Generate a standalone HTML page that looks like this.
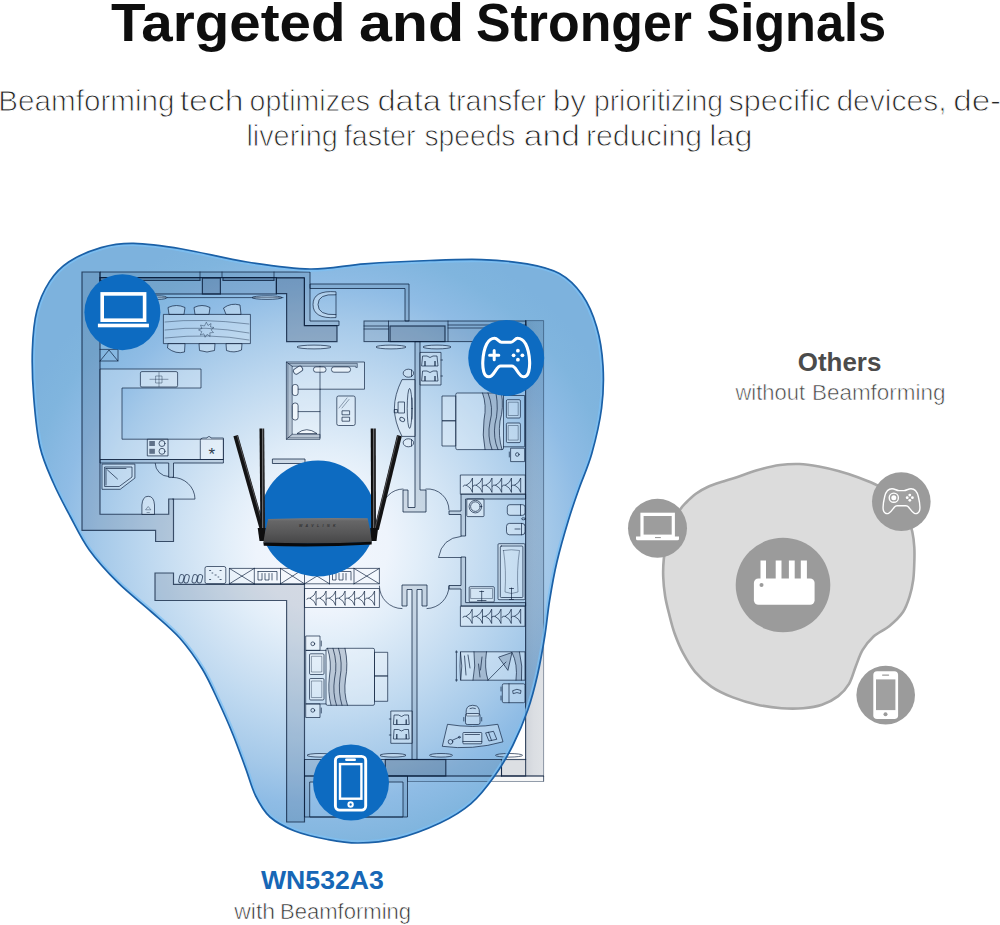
<!DOCTYPE html>
<html lang="en">
<head>
<meta charset="utf-8">
<title>Targeted and Stronger Signals</title>
<style>
html,body{margin:0;padding:0;background:#fff;}
body{width:1000px;height:925px;overflow:hidden;position:relative;font-family:"Liberation Sans",sans-serif;}
svg{position:absolute;left:0;top:0;display:block;}
text{font-family:"Liberation Sans",sans-serif;}
.w{fill:#142846;fill-opacity:.135;stroke:#0a1e3c;stroke-opacity:.74;stroke-width:1.15;stroke-linejoin:miter;}
.wd{fill:#142846;fill-opacity:.23;stroke:#0a1e3c;stroke-opacity:.8;stroke-width:1.2;}
.wl{fill:#142846;fill-opacity:.105;stroke:#0a1e3c;stroke-opacity:.74;stroke-width:1;}
.f{fill:none;stroke:#0a1e3c;stroke-opacity:.715;stroke-width:.95;stroke-linejoin:round;stroke-linecap:round;}
.ff{fill:#fff;fill-opacity:.25;stroke:#0a1e3c;stroke-opacity:.715;stroke-width:.95;stroke-linejoin:round;}
.t{fill:none;stroke:#0a1e3c;stroke-opacity:.6;stroke-width:.65;stroke-linejoin:round;stroke-linecap:round;}
</style>
</head>
<body>
<svg width="1000" height="925" viewBox="0 0 1000 925">
<defs>
<radialGradient id="bg" gradientUnits="userSpaceOnUse" cx="322" cy="545" r="330">
<stop offset="0" stop-color="#f4f7fd"/>
<stop offset="0.2" stop-color="#eef4fc"/>
<stop offset="0.29" stop-color="#e2eef9"/>
<stop offset="0.43" stop-color="#cde1f3"/>
<stop offset="0.52" stop-color="#bfd9f0"/>
<stop offset="0.68" stop-color="#a5c9e9"/>
<stop offset="0.79" stop-color="#8fbce5"/>
<stop offset="0.91" stop-color="#80b5de"/>
<stop offset="1" stop-color="#7db2dd"/>
</radialGradient>
<path id="blobp" d="M133.5,243.4 C147.0,243.6 163.1,245.9 182.0,249.0 C200.9,252.1 225.7,258.7 247.0,262.0 C268.3,265.3 290.4,268.7 310.0,269.0 C329.6,269.3 344.9,265.2 364.9,263.8 C384.8,262.4 410.2,261.2 429.7,260.5 C449.1,259.8 465.4,259.1 481.6,259.6 C497.8,260.2 514.0,261.5 527.0,263.8 C540.0,266.1 550.2,268.4 559.4,273.5 C568.6,278.6 575.8,285.7 582.0,294.6 C588.2,303.5 593.2,315.1 596.7,327.0 C600.2,338.9 602.2,352.5 603.0,366.0 C603.8,379.5 603.5,393.4 601.6,408.0 C599.7,422.6 595.6,440.0 591.8,453.5 C588.0,467.0 582.8,477.9 578.9,489.0 C575.0,500.1 572.2,507.8 568.5,520.0 C564.8,532.2 560.1,548.5 556.9,562.0 C553.7,575.5 551.5,588.7 549.5,601.0 C547.5,613.3 546.8,623.7 544.8,636.0 C542.8,648.3 540.3,662.7 537.5,675.0 C534.7,687.3 531.9,698.3 527.8,710.0 C523.7,721.7 518.5,734.0 513.0,745.0 C507.5,756.0 501.6,766.2 494.6,776.0 C487.6,785.8 480.1,795.8 471.0,803.6 C461.9,811.4 452.3,817.2 440.0,823.0 C427.7,828.8 410.7,835.3 397.0,838.6 C383.3,841.9 369.6,842.9 358.0,843.0 C346.4,843.1 338.2,841.5 327.6,839.5 C317.1,837.5 304.3,834.8 294.7,831.0 C285.1,827.2 276.5,822.8 270.0,817.0 C263.5,811.2 259.8,804.2 255.7,796.0 C251.6,787.8 249.2,777.8 245.4,767.6 C241.6,757.4 237.4,745.6 233.0,734.7 C228.6,723.8 223.8,713.0 218.7,702.0 C213.6,691.0 208.8,679.7 202.3,669.0 C195.8,658.3 188.2,647.6 179.7,638.0 C171.1,628.4 161.3,620.7 151.0,611.5 C140.7,602.3 128.3,593.0 118.0,582.7 C107.7,572.5 97.3,561.1 89.3,550.0 C81.3,538.9 76.0,527.2 70.0,516.0 C64.0,504.8 58.4,494.5 53.4,483.0 C48.4,471.5 43.3,461.2 40.0,447.0 C36.7,432.8 35.1,414.2 33.8,398.0 C32.5,381.8 31.9,364.2 32.4,349.7 C32.9,335.2 33.9,322.4 36.8,311.0 C39.6,299.6 44.2,289.8 49.5,281.6 C54.8,273.4 60.0,267.7 68.6,262.0 C77.2,256.3 90.2,250.7 101.0,247.6 C111.8,244.5 120.0,243.2 133.5,243.4 Z"/>
<clipPath id="blobclip"><use href="#blobp"/></clipPath>
</defs>

<!-- ===== headline ===== -->
<g id="headline" font-weight="700" font-size="54" fill="#0e0e0e">
<text x="111.0" y="41" textLength="234.6" lengthAdjust="spacingAndGlyphs">Targeted</text>
<text x="358.9" y="41" textLength="105.3" lengthAdjust="spacingAndGlyphs">and</text>
<text x="476.0" y="41" textLength="216.0" lengthAdjust="spacingAndGlyphs">Stronger</text>
<text x="706.5" y="41" textLength="179.6" lengthAdjust="spacingAndGlyphs">Signals</text>
</g>

<!-- ===== sub headline ===== -->
<g id="sub" font-size="29" fill="#262626" stroke="#fff" stroke-width="0.9">
<text x="-1.8" y="110.5" textLength="176.4" lengthAdjust="spacingAndGlyphs">Beamforming</text>
<text x="179.7" y="110.5" textLength="64.0" lengthAdjust="spacingAndGlyphs">tech</text>
<text x="249.5" y="110.5" textLength="120.6" lengthAdjust="spacingAndGlyphs">optimizes</text>
<text x="377.4" y="110.5" textLength="63.6" lengthAdjust="spacingAndGlyphs">data</text>
<text x="447.9" y="110.5" textLength="98.1" lengthAdjust="spacingAndGlyphs">transfer</text>
<text x="552.7" y="110.5" textLength="33.5" lengthAdjust="spacingAndGlyphs">by</text>
<text x="593.9" y="110.5" textLength="129.2" lengthAdjust="spacingAndGlyphs">prioritizing</text>
<text x="728.4" y="110.5" textLength="102.2" lengthAdjust="spacingAndGlyphs">specific</text>
<text x="836.4" y="110.5" textLength="110.2" lengthAdjust="spacingAndGlyphs">devices,</text>
<text x="953.2" y="110.5" textLength="48.0" lengthAdjust="spacingAndGlyphs">de-</text>
<text x="246.4" y="146" textLength="91.3" lengthAdjust="spacingAndGlyphs">livering</text>
<text x="343.9" y="146" textLength="71.7" lengthAdjust="spacingAndGlyphs">faster</text>
<text x="424.4" y="146" textLength="91.1" lengthAdjust="spacingAndGlyphs">speeds</text>
<text x="523.8" y="146" textLength="56.0" lengthAdjust="spacingAndGlyphs">and</text>
<text x="585.9" y="146" textLength="116.2" lengthAdjust="spacingAndGlyphs">reducing</text>
<text x="709.2" y="146" textLength="43.2" lengthAdjust="spacingAndGlyphs">lag</text>
</g>

<!-- ===== blue coverage blob ===== -->
<use href="#blobp" fill="url(#bg)"/>

<!-- ===== floor plan drawn in translucent ink over the blob ===== -->
<g id="plan">
<!-- walls -->
<defs><linearGradient id="rw" x1="0" y1="0" x2="1" y2="0"><stop offset="0" stop-color="#142846" stop-opacity=".2"/><stop offset="0.45" stop-color="#142846" stop-opacity=".155"/><stop offset="1" stop-color="#142846" stop-opacity=".135"/></linearGradient></defs>
<g id="walls">
<path class="w" d="M82,272 H100 V514.2 H168.7 V499 H173.5 V541.5 H155.6 V530.3 H82 Z"/>
<path class="wl" d="M100,272 H310 V321 H339 V325.6 H304.4 V277.6 H100 Z"/>
<rect class="w" x="100" y="277.6" width="176.400" height="16.400" style="fill-opacity:.11"/>
<path class="f" d="M200,272 V277.600 M222,272 V277.600 M274,272 V277.600"/>
<rect class="wd" x="100" y="277.6" width="100" height="2.800" style="fill-opacity:.12"/>
<rect class="wd" x="223" y="277.6" width="51" height="2.800" style="fill-opacity:.12"/>
<rect class="wd" x="202.400" y="278" width="18" height="16" style="fill-opacity:.13"/>
<path class="wd" d="M276.400,278 H304.400 V325.600 H337 V341.600 H286.600 V293.600 H276.400 Z"/>
<path class="wl" d="M310,284 H409 V321 H405 V288.500 H310 Z"/>
<!-- top right horizontal wall -->
<rect class="wl" x="364" y="321" width="162" height="20.600"/>
<path class="f" d="M364,326 H388.500 M364,329 H388.500 M388.500,321 V341.600 M448,321 V341.600 M448,325 H526 M448,328 H526"/>
<rect class="wd" x="390" y="326" width="55" height="15.600" style="fill-opacity:.15"/>
<!-- right outer wall -->
<rect x="525.600" y="320.600" width="18" height="455.400" fill="url(#rw)"/>
<path d="M525.600,320.600 H543.600 V781.500" fill="none" stroke="#0a1e3c" stroke-opacity=".48" stroke-width="0.900"/>
<path class="f" d="M525.600,320.600 V759.500 M501.500,776 H543.600" style="stroke-opacity:.8;stroke-width:1.150"/>
<!-- living / bedroom divider -->
<path class="wl" d="M415,341.600 H420 V490 H426 V512 H403 V490 H408 V507.500 H415 Z"/>
<!-- bathroom 2 -->
<path class="wl" d="M461,494 H525.600 V499 H465.600 V536 H461 V514.500 H449 V511 H461 Z"/>
<path class="wl" d="M461,557 H465.600 V602.600 H525.600 V606 H461 V589 H449 V585.500 H461 Z"/>
<!-- lower divider -->
<path class="wl" d="M402,585 H427 V606 H422 V589.500 H417 V759.500 H412 V589.500 H407 V606 H402 Z"/>
<!-- lower-left thick wall -->
<path class="w" d="M155,573 H173.500 V584.300 H304.500 V822 H286.600 V600.500 H155 Z"/>
<!-- bottom wall -->
<rect class="wl" x="304.500" y="759.500" width="197" height="16.500"/>
<rect class="wd" x="385.300" y="759.500" width="60.500" height="16.500" style="fill-opacity:.15"/>
<rect class="w" x="501.500" y="759.500" width="24.100" height="16.500" style="fill-opacity:.15"/>
<path class="wl" d="M304.500,776 H407.500 V817 H304.500 Z M309.700,782 V817 H403 V782 Z" fill-rule="evenodd"/>
<path class="wl" d="M407.500,776 H543.600 V781.500 H407.500 Z" style="fill-opacity:.045;stroke-opacity:.48;stroke-width:.9"/>
<!-- bathroom 1 -->
<path class="wl" d="M100,459.500 H223.400 V463 H173.500 V477.300 H168.700 V463 H100 Z"/>
</g>
<!-- kitchen / dining -->
<g id="kitchen">
<path class="f" d="M100,349.400 H118 V361 H100 M100,361 L109,350 L118,361"/>
<path class="ff" d="M100,369 H201 V388 H122 V439.200 H223.400 V459.500 H100 Z"/>
<rect class="ff" x="140.400" y="371.600" width="37.200" height="15.400" rx="1.500"/>
<path class="t" d="M150,379.300 H168 M159,372.500 V386.500 M156,376 H162 V383 H156 Z"/>
<rect class="ff" x="147.300" y="439.200" width="20.700" height="16.700"/>
<rect x="149.300" y="441" width="5.600" height="5" fill="#0a1e3c" fill-opacity=".58"/><rect x="149.300" y="448.800" width="5.600" height="5" fill="#0a1e3c" fill-opacity=".58"/>
<circle class="f" cx="162" cy="443.500" r="3"/><circle class="f" cx="162" cy="451.300" r="3"/>
<path class="ff" d="M200.300,459.500 V440.500 Q200.300,438 203,438 H207 Q207.500,436.600 209,436.600 Q210.500,436.600 211,438 H223.400 V459.500 Z"/>
<text x="211.700" y="459.600" font-size="17" text-anchor="middle" fill="#2d3b4d">*</text>
<!-- dining table -->
<rect class="ff" x="163.400" y="314.400" width="87" height="29.200"/>
<path class="t" d="M165,322 Q200,318 249,324 M165,330 Q205,325 249,333 M165,338 Q210,333 249,340"/>
<path class="t" d="M206.500,322.500 l1.500,3 l3,-2 l-0.500,3.500 l3.500,0.500 l-3,2.300 l2.500,2.700 l-3.700,0.300 l0.300,3.700 l-3,-2.200 l-2,3 l-1.300,-3.500 l-3.500,1.200 l1.500,-3.400 l-3.300,-1.700 l3.400,-1.400 l-1.400,-3.400 l3.600,0.800 Z"/>
<g class="ff">
<path d="M169,314.400 L168,307.500 Q176.500,303.500 185,307.500 L184,314.400 Z"/>
<path d="M195,314.400 L194,307.500 Q202,303.500 210,307.500 L209,314.400 Z"/>
<path d="M226,314.400 L223.500,308 Q231,302.500 240,305 L241,314.400 Z"/>
<path d="M168,343.600 L167.500,348 Q176,354.500 184.500,352 L185,343.600 Z"/>
<path d="M199,343.600 L199.500,350.500 Q207,353.500 214.500,350.500 L215,343.600 Z"/>
<path d="M226,343.600 L226.500,350.500 Q234,353.500 241.500,350 L242,343.600 Z"/>
</g>
<path class="f" d="M158,297.600 H283"/>
<ellipse class="ff" cx="267" cy="297.600" rx="15" ry="1.800"/>
<ellipse class="ff" cx="158" cy="297.600" rx="9" ry="1.800"/>
</g>
<!-- living room -->
<g id="living">
<path class="ff" d="M286.400,362 H364.500 V389.200 H320 V439.300 H286.400 Z"/>
<path d="M287.800,363.400 H357.300 V367.500 H355.800 V366.300 H292.200 V434.300 H320 V437.900 H287.800 Z" fill="#142846" fill-opacity=".2" stroke="#0a1e3c" stroke-opacity=".715" stroke-width=".7" stroke-linejoin="round"/>
<path class="f" d="M320,366.300 V389.200 M298,389.200 H320 M298,411.600 H320 M286.400,362 L292.200,366.300 M286.400,439.300 L292.200,434.300"/>
<g class="ff" style="fill-opacity:.55">
<rect x="293.200" y="367.300" width="9.500" height="5.600" rx="2.300" transform="rotate(-32 298 370)"/>
<rect x="313.500" y="366.900" width="12.500" height="5.300" rx="2.400"/>
<rect x="331.500" y="366.900" width="19" height="5.300" rx="2.400"/>
<rect x="292.300" y="384.500" width="5.800" height="11" rx="2.400"/>
<rect x="292.300" y="403" width="5.800" height="17" rx="2.600"/>
<path d="M297,433.600 Q306.500,425.800 317,433.600 Z"/>
</g>
<rect class="ff" x="336.800" y="396" width="18.400" height="29.500" rx="1.800"/>
<path class="t" d="M339,408 L347,398 M342,408 L349,399.500"/>
<rect class="f" x="342.400" y="410.800" width="7.200" height="4"/><rect class="f" x="342.400" y="417.200" width="7.200" height="4"/>
<!-- balcony chair -->
<path class="ff" d="M336,291.800 Q313,290 313,304.500 Q313,319 336,317.600 L336,314.600 Q318,315.500 318,304.500 Q318,293.500 336,294.800 Z"/>
<path class="f" d="M336,294.800 V314.600"/>
<!-- console + tv -->
<path class="ff" d="M415,379.600 H402 Q394.400,395 394.400,408 Q394.400,422 402,436.400 H415 Z"/>
<ellipse class="f" cx="409.600" cy="408.400" rx="2.400" ry="20"/>
<path class="f" d="M412,398 V419"/>
<rect class="f" x="398.500" y="402" width="6" height="11"/>
<rect class="f" x="394.600" y="409.500" width="2.800" height="3.300"/>
<ellipse class="f" cx="402.200" cy="419.500" rx="2.600" ry="1.800" transform="rotate(30 402.200 419.500)"/>
<ellipse class="ff" cx="408.400" cy="373.200" rx="5.200" ry="4"/>
<ellipse class="ff" cx="408.400" cy="442.800" rx="5.200" ry="4"/>
<path class="f" d="M411.500,370 V376.500 M411.500,439.600 V446"/>
<!-- small wall stub behind router -->
<path class="wl" d="M272.400,459 H305 V463.500 H272.400 Z"/>
<!-- ceiling lights -->
<ellipse class="ff" cx="314" cy="347" rx="17" ry="1.900"/>
<ellipse class="ff" cx="391" cy="347" rx="15" ry="1.900"/>
<ellipse class="ff" cx="437" cy="347" rx="14" ry="1.900"/>
</g>
<!-- hanger symbol -->
<defs>
<path id="hg" d="M0,-6.800 Q-0.900,-2.600 -6,0 Q-0.900,2.600 0,6.800 Z M-6,0 h-2 q-0.900,0.100 -1.100,1.100"/>
<path id="shirt" d="M0.800,0.800 Q3,-0.600 5,1 Q7,2.600 9,1 Q11,-0.600 13.200,0.800 L16,10 L12.500,11 L11.500,6 L11.500,11.500 H2.500 L2.500,6 L1.500,11 L-2,10 Z"/>
</defs>
<!-- bedroom 1 -->
<g id="bed1">
<rect class="ff" x="420" y="352.400" width="21" height="32.600"/>
<path class="f" d="M423,356 h4 q3,3 6,0 h4 l1,10 h-3 v-5 v5 h-10 v-5 v5 h-3 Z M423,371 h4 q3,3 6,0 h4 l1,10 h-3 v-5 v5 h-10 v-5 v5 h-3 Z"/>
<path class="f" d="M441,360 h1.500 M441,376 h1.500"/>
<rect class="ff" x="442" y="396" width="13.800" height="24.800"/>
<rect class="ff" x="442" y="420.800" width="13.800" height="25.200"/>
<rect class="ff" x="455.800" y="393" width="47.700" height="56.600" rx="1.500"/>
<path class="f" d="M503.500,395.500 H524.600 V446.800 H503.500"/>
<path d="M482.500,393 Q487,405 484,420 Q482,435 485,449.600 H502 Q498,436 500,421 Q504,408 501.500,393 Z" fill="#142846" fill-opacity=".18"/>
<path class="f" d="M482.500,393 Q487,405 484,420 Q482,435 485,449.600 M488,393 Q494,408 490,422 Q487,436 492,449.600 M496,393 Q499,410 495,424 Q493,438 498,449.600 M501.500,393 Q504,408 500,421 Q498,436 502,449.600"/>
<rect class="ff" x="506.400" y="399.700" width="14" height="18.300" rx="1.200"/>
<rect class="ff" x="506.400" y="423" width="14" height="19.600" rx="1.200"/>
<rect class="t" x="508.600" y="402.200" width="9.600" height="13.300"/>
<rect class="t" x="508.600" y="425.500" width="9.600" height="14.600"/>
<rect class="ff" x="510.600" y="448.200" width="14" height="13.400"/>
<circle class="f" cx="517.300" cy="454.500" r="1.800"/>
<path class="f" d="M509.300,452 v5"/>
<!-- wardrobe with hangers -->
<rect class="ff" x="460.300" y="475" width="65" height="19.200"/>
<g class="f">
<use href="#hg" x="472.4" y="485.2"/><use href="#hg" x="482.2" y="485.2"/><use href="#hg" x="491.9" y="485.2"/><use href="#hg" x="501.6" y="485.2"/><use href="#hg" x="511.4" y="485.2"/><use href="#hg" x="520.6" y="485.2"/>
</g>
</g>
<!-- bathroom 2 -->
<g id="bath2">
<rect class="ff" x="466.800" y="499" width="17.200" height="17.600" rx="1"/>
<circle class="f" cx="475.400" cy="506.600" r="6.300"/><circle class="f" cx="475.400" cy="506.600" r="4.800"/>
<rect class="ff" x="507.300" y="504.700" width="17.700" height="10.600" rx="2.500"/>
<path class="f" d="M520.500,504.700 V515.300"/>
<ellipse class="f" cx="523.500" cy="518.800" rx="2" ry="1"/>
<rect class="ff" x="506.500" y="523.400" width="18.500" height="11.400" rx="3"/>
<path class="f" d="M515,529 H520 M521.500,523.400 V534.800"/>
<rect class="ff" x="498" y="543.700" width="27" height="56" rx="1"/>
<rect class="f" x="500.300" y="546" width="22.600" height="51.500" rx="1"/>
<path class="t" d="M503.500,550.500 Q511.500,549 519.500,550.500 Q516.500,570 518,592 Q511.500,595 505,592 Q506.500,570 503.500,550.500 Z"/>
<path class="f" d="M511.500,588 V599 M509.500,588.500 H513.500 M509.500,599.500 H513.500"/>
<rect class="ff" x="469.200" y="586.700" width="25.100" height="15.300" rx="1"/>
<rect class="t" x="471" y="588.500" width="21.500" height="10"/>
<path class="f" d="M481.700,591 V601 M479.700,591.500 H483.700 M477.500,600.500 H486"/>
<!-- doors -->
<path class="f" d="M426,489 A21,21 0 0 1 449,510"/>
<path class="f" d="M403,489 A21,21 0 0 0 382,510"/>
<path class="f" d="M461,536.400 Q442,538 438.500,557.500 H461"/>
</g>
<!-- bathroom 1 -->
<g id="bath1">
<path class="ff" d="M102,464.100 H134.900 V478.100 L120.200,489.300 H102 Z"/>
<path class="f" d="M105,467 H132 V477 L119.200,486.500 H105 Z"/>
<path class="f" d="M106,468.500 H126 M106,468.500 V485 M107.500,470 L117.500,479"/>
<path class="f" d="M155.200,463.400 A13.300,13.300 0 0 0 168.500,476.500"/>
<path class="f" d="M172.700,477.400 A22,22 0 0 1 195,499.100 H172.700"/>
<path class="ff" d="M141.900,514.500 V505 Q142.500,496.300 148.200,496.300 Q154,496.300 154.500,505 V514.500 Z"/>
<path class="t" d="M145.800,509.500 L148.200,506.500 L150.600,509.500 Z M147,512.500 h2.400"/>
</g>
<!-- closet row in hall -->
<g id="closets">
<g class="f">
<rect x="179.200" y="574.500" width="4.400" height="8.600" rx="2.200" transform="rotate(14 181.400 578.800)"/>
<rect x="184.400" y="574.500" width="4.400" height="8.600" rx="2.200" transform="rotate(14 186.600 578.800)"/>
<rect x="192.500" y="574.500" width="4.400" height="8.600" rx="2.200" transform="rotate(14 194.700 578.800)"/>
<rect x="197.700" y="574.500" width="4.400" height="8.600" rx="2.200" transform="rotate(14 199.900 578.800)"/>
</g>
<rect class="ff" x="205" y="566.500" width="20.800" height="17.100" rx="1.800"/>
<path class="f" d="M209.500,570.500 h1.200 M220,570.500 h1.200 M215,575 h1.200 M209.500,579.500 h1.200 M220,579.500 h1.200 M212,573 h0.800 M218,577 h0.800" stroke-width="1.200"/>
<path class="ff" d="M229.400,568.400 H379.400 V583.800 H229.400 Z"/>
<path class="f" d="M254.300,568.400 V583.800 M280.500,568.400 V583.800 M304.500,568.400 V583.800 M329.500,568.400 V583.800 M354,568.400 V583.800"/>
<path class="f" d="M229.400,568.400 L254.300,583.800 M254.300,568.400 L229.400,583.800 M280.500,568.400 L304.500,583.800 M304.500,568.400 L280.500,583.800 M304.500,568.400 L329.500,583.800 M329.500,568.400 L304.500,583.800 M354,568.400 L379.400,583.800 M379.400,568.400 L354,583.800"/>
<path class="f" d="M258,571.500 H277 V580 M258,571.500 V580 H262 V573.500 M265,573.500 V580 H269 V573.500 M272,573.500 V580 M332.500,571.500 H351 V580 M332.500,571.500 V580 H336 V573.500 M339,573.500 V580 H343 V573.500 M346,573.500 V580"/>
<!-- bedroom 3 hanging closet -->
<rect class="ff" x="304.500" y="588.500" width="74.900" height="19"/>
<g class="f">
<use href="#hg" x="316.0" y="598.2"/><use href="#hg" x="326.0" y="598.2"/><use href="#hg" x="335.5" y="598.2"/><use href="#hg" x="345.0" y="598.2"/><use href="#hg" x="354.5" y="598.2"/><use href="#hg" x="364.5" y="598.2"/><use href="#hg" x="374.5" y="598.2"/>
</g>
<!-- doors in lower hall -->
<path class="f" d="M379.400,586 A22.600,22.600 0 0 0 402,608.600"/>
<path class="f" d="M427,608.600 A22.600,22.600 0 0 0 449,586"/>
</g>
<!-- bedroom 3 -->
<g id="bed3">
<rect class="ff" x="305.700" y="636" width="14.300" height="14.400"/>
<rect class="ff" x="305.700" y="703.900" width="14.300" height="13.600"/>
<circle class="f" cx="312.800" cy="643.800" r="1.900"/><circle class="f" cx="312.800" cy="710.300" r="1.900"/>
<path class="f" d="M321.300,641 v5 M321.300,708 v5"/>
<path class="f" d="M326,650.400 H305.700 V703.900 H326"/>
<rect class="ff" x="309.500" y="653.800" width="14.500" height="20.700" rx="1.200"/>
<rect class="ff" x="309.500" y="678.500" width="14.500" height="21.500" rx="1.200"/>
<rect class="t" x="311.800" y="656.300" width="10" height="15.700"/>
<rect class="t" x="311.800" y="681" width="10" height="16.500"/>
<rect class="ff" x="326" y="648.300" width="48.500" height="57" rx="1.500"/>
<path d="M327.500,648.300 Q332,662 329.500,676 Q327.500,692 331,705.300 H347.500 Q343.500,693 345.500,679 Q348.500,664 345,648.300 Z" fill="#142846" fill-opacity=".18"/>
<path class="f" d="M327.500,648.300 Q332,662 329.500,676 Q327.500,692 331,705.300 M333,648.300 Q338,664 334.500,679 Q332.500,693 336.500,705.300 M338.500,648.300 Q343,663 340,678 Q338,692 342,705.300 M345,648.300 Q348.500,664 345.500,679 Q343.500,693 347.500,705.300"/>
<rect class="ff" x="374.500" y="652.300" width="13.200" height="23.700"/>
<rect class="ff" x="374.500" y="676" width="13.200" height="25.300"/>
<rect class="ff" x="390.800" y="711" width="21.400" height="32.300"/>
<path class="f" d="M394.500,715 h4 q3,3 6,0 h4 l0.700,9.500 h-3 v-5 v5 h-9.400 v-5 v5 h-3 Z M394.500,729.500 h4 q3,3 6,0 h4 l0.700,9.500 h-3 v-5 v5 h-9.400 v-5 v5 h-3 Z"/>
<path class="f" d="M389.300,719 h1.500 M389.300,735 h1.500"/>
<ellipse class="ff" cx="320" cy="755.300" rx="13" ry="1.800"/>
<ellipse class="ff" cx="393" cy="755.300" rx="13" ry="1.800"/>
</g>
<!-- bedroom 2 -->
<g id="bed2">
<rect class="ff" x="460.400" y="606.200" width="64.600" height="20.100"/>
<g class="f">
<use href="#hg" x="472.1" y="616.3"/><use href="#hg" x="482.4" y="616.3"/><use href="#hg" x="491.6" y="616.3"/><use href="#hg" x="500.9" y="616.3"/><use href="#hg" x="511.2" y="616.3"/><use href="#hg" x="520.6" y="616.3"/>
</g>
<path class="ff" d="M460.500,651.800 H525 V680.200 H460.500 Q459.500,666 460.500,651.800 Z"/>
<path class="f" d="M456.400,650.800 V681.300 M455.500,652 h2 M455.500,680 h2 M460.500,652 Q463,666 460.800,680"/>
<path d="M474,651.800 Q476,666 473,680.200 H488 Q484,668 486.500,651.800 Z M499,657 L512,652.500 L508,670 Z M512,652.500 Q518,664 516,680.200 H521.500 Q523,666 519.500,652 Z" fill="#142846" fill-opacity=".18"/>
<path class="f" d="M474,651.800 Q476,666 473,680.200 M486.500,651.800 Q484,668 488,680.200 M464.500,656 L466,675 M468,655 L470,668 M478.500,664 L480,677 M482,657 L480.500,670"/>
<path class="f" d="M499,657 L512,652.500 L508,670 Z M488,680.200 L506,662 M512,652.500 Q518,664 516,680.200 M519.500,652 Q523,666 521.500,680.200"/>
<rect class="ff" x="502.300" y="683.800" width="22.700" height="18.900" rx="1.500"/>
<path class="f" d="M509,683.800 V702.700 M501,687 v4 M501,696 v4"/>
<path class="f" d="M513,690.500 q4,-2.500 8,0 l-0.500,3 q-3.500,-2 -7,0 Z"/>
<!-- chair + desk -->
<path class="ff" d="M466.500,716 Q465,708 469,706 Q472.700,704.500 476.500,706 Q480.500,708 479,716 Z"/>
<rect class="ff" x="465.500" y="713.500" width="14.500" height="11" rx="1.800"/>
<path class="f" d="M463.800,717.500 v3.500 M481.700,717.500 v3.500 M470,708.500 q2.700,-1.200 5.400,0"/>
<path class="ff" d="M447.500,724.300 Q472.500,728.500 497.800,724.300 L503,741.800 Q472.500,750.500 442.300,746.300 Z"/>
<rect class="ff" x="462.900" y="732.500" width="18.900" height="11.300" rx="0.800"/>
<path class="f" d="M462.900,741.500 H481.800 M465,734.500 H479.500"/>
<path class="f" d="M486,732.800 L493.500,731.300 L496.800,739.300 L489.300,740.900 Z M488.500,732.200 L491.500,740.400"/>
<circle class="f" cx="450.500" cy="741.800" r="2.300"/><path class="f" d="M452.300,740.300 L458.500,737.500"/><circle class="f" cx="459.300" cy="737.200" r="0.900"/>
<ellipse class="ff" cx="441" cy="755.300" rx="11.500" ry="1.800"/>
<ellipse class="ff" cx="509" cy="755.300" rx="13.500" ry="1.800"/>
</g>

</g>

<use href="#blobp" fill="none" stroke="#7cc0f4" stroke-width="5.4" stroke-opacity=".75" clip-path="url(#blobclip)"/>
<use href="#blobp" fill="none" stroke="#1b60a6" stroke-width="1.7"/>

<!-- ===== router ===== -->
<g id="router">
<defs>
<linearGradient id="rtop" x1="0" y1="0" x2="0" y2="1">
<stop offset="0" stop-color="#7b7b7c"/><stop offset="0.12" stop-color="#666667"/><stop offset="0.6" stop-color="#565657"/><stop offset="1" stop-color="#454546"/>
</linearGradient>
<linearGradient id="ant" x1="0" y1="0" x2="1" y2="0">
<stop offset="0" stop-color="#080808"/><stop offset="0.38" stop-color="#121213"/><stop offset="0.52" stop-color="#6c6c6e"/><stop offset="0.68" stop-color="#2a2a2c"/><stop offset="1" stop-color="#1a1a1c"/>
</linearGradient>
</defs>
<circle cx="318" cy="518.500" r="58" fill="#0d6bc1"/>
<!-- antennas -->
<path d="M233.400,436.300 L238,435 L264.800,528.500 L260,530.500 Z" fill="#131314"/>
<path d="M237.100,435.400 L263.900,528.800" stroke="#5a5a5e" stroke-width="0.900" fill="none"/>
<path d="M259.500,428.400 H264.200 L265.200,538 H260.500 Z" fill="url(#ant)"/>
<path d="M370.700,428.400 H375.800 L376,538 H371.200 Z" fill="url(#ant)"/>
<path d="M397,435 L401.800,436.300 L378.800,530 L374.200,528.500 Z" fill="#131314"/>
<path d="M398,435.300 L375,528.800" stroke="#5a5a5e" stroke-width="0.900" fill="none"/>
<!-- hinges -->
<path d="M257.700,528 H265.600 V541 H259.500 Z" fill="#0e0e0f"/>
<path d="M370.300,528 H378.100 L376.500,541 H370.300 Z" fill="#0e0e0f"/>
<!-- body -->
<path d="M268.200,518.900 Q318,517.500 367.600,518.200 Q370.500,530 371.800,542 Q318,544.600 263.300,542.800 Q265,530 268.200,518.900 Z" fill="url(#rtop)"/>
<path d="M263.300,542.500 Q318,544.300 371.800,541.700 L371.600,544.600 Q318,547.600 263.800,545.800 Z" fill="#0a0a0b"/>
<text x="299" y="527.300" font-size="3.600" font-weight="700" fill="#2f2f31" font-style="italic" textLength="36.500" lengthAdjust="spacing">WAVLINK</text>
</g>


<!-- ===== device icons ===== -->
<g id="icon-laptop">
<circle cx="122.400" cy="312.200" r="38" fill="#0d6bc1"/>
<rect x="102.200" y="293.900" width="42.400" height="26.300" fill="none" stroke="#fff" stroke-width="3.600"/>
<rect x="97.900" y="323.700" width="51" height="3.600" fill="#fff"/>
</g>
<g id="icon-gamepad">
<circle cx="506.200" cy="358" r="38" fill="#0d6bc1"/>
<path d="M494.500,338.300 C497.500,338.300 499,342.200 501.500,342.200 L511,342.200 C513.500,342.200 515,338.300 517.500,338.300 C521,338.300 523.800,340.500 525.700,344 C528,348.500 529.300,355 529.600,361.300 C529.800,365 529.500,368.500 528.700,371.600 C527.800,375 526,376.800 523.500,376.800 C521,376.800 519,374 517,370.800 C515.500,368.300 514,366 511.800,366 L500.600,366 C498.400,366 497,368.300 495.400,370.800 C493.400,374 491.400,376.800 488.900,376.800 C486.400,376.800 484.600,375 483.700,371.600 C482.900,368.500 482.600,365 482.800,361.300 C483.100,355 484.400,348.500 486.700,344 C488.600,340.500 491,338.300 494.500,338.300 Z" fill="none" stroke="#fff" stroke-width="3.100" stroke-linejoin="round"/>
<path d="M494.200,350.600 V359.800 M489.600,355.200 H498.800" stroke="#fff" stroke-width="3" stroke-linecap="round" fill="none"/>
<circle cx="517.900" cy="350.700" r="1.900" fill="#fff"/><circle cx="517.900" cy="359.700" r="1.900" fill="#fff"/>
<circle cx="513.600" cy="355.300" r="1.900" fill="#fff"/><circle cx="522.400" cy="355.300" r="1.900" fill="#fff"/>
</g>
<g id="icon-phone">
<circle cx="351" cy="782.600" r="38" fill="#0d6bc1"/>
<rect x="335.400" y="756.400" width="30.300" height="53.700" rx="4.200" ry="4.200" fill="none" stroke="#fff" stroke-width="2.900"/>
<rect x="340" y="764.100" width="21.400" height="34.600" fill="none" stroke="#fff" stroke-width="2.400"/>
<path d="M346.300,759.700 H354.800" stroke="#fff" stroke-width="2.400" stroke-linecap="round"/>
<circle cx="350.600" cy="804.500" r="2.200" fill="none" stroke="#fff" stroke-width="2"/>
</g>


<!-- ===== others ===== -->
<g id="others">
<path d="M780.0,465.0 C787.1,464.0 793.0,463.8 799.5,464.0 C806.0,464.2 812.4,465.3 818.9,466.5 C825.4,467.7 831.9,469.2 838.4,471.0 C844.9,472.8 852.0,475.1 857.8,477.2 C863.6,479.3 868.2,480.9 873.4,483.5 C878.6,486.1 884.4,488.6 889.0,492.5 C893.6,496.4 897.8,502.4 901.0,507.0 C904.2,511.6 906.6,515.9 908.5,520.0 C910.4,524.1 911.3,527.2 912.3,531.7 C913.3,536.2 914.0,542.1 914.3,547.3 C914.6,552.5 914.5,557.4 914.3,562.9 C914.1,568.4 914.0,574.5 913.2,580.0 C912.4,585.5 911.4,590.9 909.7,596.2 C908.0,601.5 906.4,607.0 903.0,612.0 C899.6,617.0 894.5,621.8 889.5,625.9 C884.5,630.0 877.8,632.7 873.3,636.7 C868.8,640.8 865.4,645.2 862.5,650.2 C859.6,655.2 858.0,660.8 855.7,666.4 C853.5,672.0 851.9,678.9 849.0,683.9 C846.1,688.9 842.7,692.6 838.2,696.1 C833.7,699.6 827.9,702.7 822.0,704.7 C816.1,706.7 809.9,707.6 803.1,708.2 C796.4,708.8 789.1,708.8 781.5,708.2 C773.9,707.6 765.3,706.5 757.2,704.7 C749.1,702.9 740.5,700.4 732.9,697.4 C725.2,694.4 717.6,690.9 711.3,686.6 C705.0,682.3 699.8,677.4 695.1,671.8 C690.4,666.2 686.4,659.2 683.0,652.9 C679.6,646.6 677.1,640.3 674.8,634.0 C672.5,627.7 671.0,621.4 669.4,615.1 C667.8,608.8 666.1,602.4 665.1,596.0 C664.1,589.6 663.4,582.7 663.2,576.5 C663.0,570.3 663.2,564.9 663.8,559.0 C664.4,553.1 665.5,546.8 667.0,541.0 C668.5,535.2 670.3,529.3 672.5,524.0 C674.7,518.7 678.0,513.0 680.3,509.4 C682.6,505.8 683.6,505.1 686.2,502.5 C688.8,499.9 692.3,496.4 695.9,493.8 C699.5,491.2 703.4,488.9 707.6,487.0 C711.8,485.1 716.3,483.7 721.2,482.1 C726.1,480.5 730.8,479.2 736.8,477.2 C742.8,475.2 749.8,472.2 757.0,470.2 C764.2,468.2 772.9,466.0 780.0,465.0 Z" fill="#dcdcdc" stroke="#a7a7a7" stroke-width="2.600"/>
<circle cx="783" cy="585" r="47.300" fill="#9b9b9b"/>
<!-- simple router glyph -->
<g fill="#fff">
<rect x="760.500" y="560.500" width="5.500" height="22"/>
<rect x="775.700" y="560.500" width="5.800" height="22"/>
<rect x="788.900" y="560.500" width="5.800" height="22"/>
<rect x="800.800" y="560.500" width="6.100" height="22"/>
<rect x="753.900" y="578.400" width="60.700" height="26.300" rx="4.500" ry="4.500"/>
</g>
<circle cx="761.500" cy="584.900" r="2" fill="#9b9b9b"/>
<!-- laptop -->
<circle cx="657.500" cy="528.200" r="29.500" fill="#9b9b9b"/>
<rect x="640.400" y="512.700" width="34.500" height="24.500" fill="#fff"/>
<rect x="643.600" y="516" width="28.100" height="18.600" fill="#9d9d9d"/>
<path d="M636,536.600 H679 V538.800 Q679,540.300 677.500,540.300 H637.500 Q636,540.300 636,538.800 Z" fill="#fff"/>
<rect x="655" y="537" width="5.800" height="1.100" fill="#9b9b9b"/>
<!-- gamepad -->
<circle cx="901.300" cy="501.600" r="29.300" fill="#9b9b9b"/>
<path d="M892,488.800 C895,488.800 896.500,490.600 899,490.600 L904,490.600 C906.500,490.600 908,488.800 911,488.800 C915,488.800 917.200,492 918.300,496.500 C919.400,501 920.400,506.500 919.700,510 C919.100,513 916.700,514.300 914.400,513.300 C911.900,512.200 910.400,509.300 908.700,507.200 C907.800,506.100 907.100,505.800 905.900,505.800 L897.100,505.800 C895.900,505.800 895.200,506.100 894.300,507.200 C892.600,509.300 891.100,512.200 888.600,513.300 C886.300,514.300 883.900,513 883.300,510 C882.600,506.500 883.600,501 884.700,496.500 C885.800,492 888,488.800 892,488.800 Z" fill="#a0a0a0" stroke="#fff" stroke-width="1.400" stroke-linejoin="round"/>
<circle cx="893.800" cy="497.700" r="4.600" fill="none" stroke="#fff" stroke-width="1.400"/>
<circle cx="893.800" cy="497.700" r="2.500" fill="#fff"/>
<circle cx="909.800" cy="495.100" r="1.400" fill="#fff"/><circle cx="909.800" cy="500.300" r="1.400" fill="#fff"/>
<circle cx="907.200" cy="497.700" r="1.400" fill="#fff"/><circle cx="912.400" cy="497.700" r="1.400" fill="#fff"/>
<!-- phone -->
<circle cx="885.700" cy="695.100" r="29.300" fill="#9b9b9b"/>
<rect x="873.300" y="671.300" width="24.800" height="47.700" rx="3.800" ry="3.800" fill="#fff"/>
<rect x="876" y="679.400" width="19.400" height="30.700" fill="#a0a0a0"/>
<rect x="882" y="674.400" width="7.200" height="1.300" rx="0.600" fill="#9b9b9b"/>
<circle cx="885.500" cy="714.300" r="2" fill="#9b9b9b"/>
</g>


<!-- ===== labels ===== -->
<g id="labels">
<g font-size="26.5" font-weight="700" fill="#4b4b4b"><text x="797.8" y="371" textLength="83.5" lengthAdjust="spacingAndGlyphs">Others</text></g>
<g font-size="22" fill="#404040" stroke="#fff" stroke-width="0.6"><text x="735.4" y="400.3" textLength="69.6" lengthAdjust="spacingAndGlyphs">without</text>
<text x="811.9" y="400.3" textLength="133.7" lengthAdjust="spacingAndGlyphs">Beamforming</text></g>
<g font-size="25.5" font-weight="700" fill="#1767b6"><text x="261.0" y="889" textLength="122.8" lengthAdjust="spacingAndGlyphs">WN532A3</text></g>
<g font-size="21.5" fill="#2e2e2e" stroke="#fff" stroke-width="0.6"><text x="234.2" y="919" textLength="40.9" lengthAdjust="spacingAndGlyphs">with</text>
<text x="280.0" y="919" textLength="131.1" lengthAdjust="spacingAndGlyphs">Beamforming</text></g>
</g>


</svg>
</body>
</html>
